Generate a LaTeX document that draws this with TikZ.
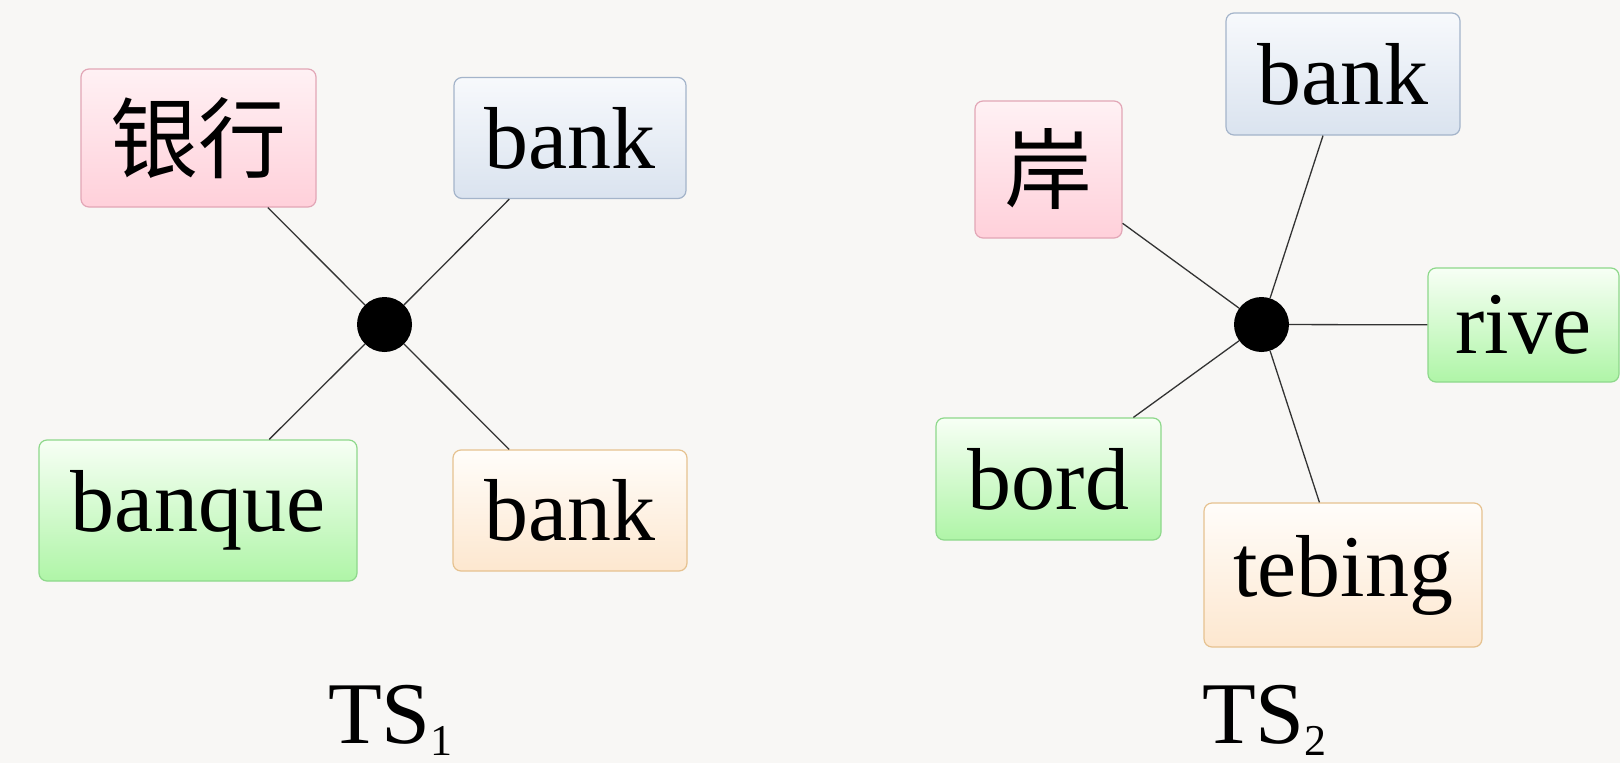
\documentclass[tikz,border=0pt]{standalone}
\usepackage{fontspec}
\setmainfont{Liberation Serif}
\newfontfamily\cjk{Noto Sans CJK SC}
\definecolor{bgcol}{HTML}{F8F7F5}
\definecolor{pinkT}{HTML}{FFF1F4}
\definecolor{pinkB}{HTML}{FFD0DA}
\definecolor{pinkE}{HTML}{E2A6B6}
\definecolor{blueT}{HTML}{F7F9FC}
\definecolor{blueB}{HTML}{DAE3EF}
\definecolor{blueE}{HTML}{A4B4CA}
\definecolor{greenT}{HTML}{F7FFF5}
\definecolor{greenB}{HTML}{AFF5A7}
\definecolor{greenE}{HTML}{8ED88B}
\definecolor{orangeT}{HTML}{FFFDFA}
\definecolor{orangeB}{HTML}{FDE7CF}
\definecolor{orangeE}{HTML}{E6C290}
\definecolor{linecol}{HTML}{333333}
\tikzset{
  wordbox/.style={rounded corners=8pt, line width=1.2pt, inner sep=0pt,
    font=\fontsize{88}{100}\selectfont, text=black},
  pinkbox/.style={wordbox, draw=pinkE, top color=pinkT, bottom color=pinkB},
  bluebox/.style={wordbox, draw=blueE, top color=blueT, bottom color=blueB},
  greenbox/.style={wordbox, draw=greenE, top color=greenT, bottom color=greenB},
  orangebox/.style={wordbox, draw=orangeE, top color=orangeT, bottom color=orangeB},
  hub/.style={circle, fill=black, minimum size=55pt, inner sep=0pt},
  link/.style={draw=linecol, line width=1.3pt},
  caption/.style={anchor=base west, inner sep=0pt, font=\fontsize{88}{100}\selectfont}
}
\newcommand{\subnum}[1]{\raisebox{-12pt}{\fontsize{44}{48}\selectfont #1}}
\begin{document}
\begin{tikzpicture}[x=1pt, y=-1pt]
  \fill[bgcol] (0,0) rectangle (1620,763);
  \useasboundingbox (0,0) rectangle (1620,763);

  % first translation set
  \node[hub] (h1) at (384.5,324.5) {};
  \node[pinkbox, minimum width=235pt, minimum height=138pt] (zh1) at (198.5,138) {\cjk 银行};
  \node[bluebox, minimum width=232pt, minimum height=121pt] (en1) at (570,138) {bank};
  \node[greenbox, minimum width=318pt, minimum height=141pt] (fr1) at (198,510.5) {banque};
  \node[orangebox, minimum width=234pt, minimum height=121pt] (ms1) at (570,510.5) {bank};
  \draw[link] (h1) -- (zh1);
  \draw[link] (h1) -- (en1);
  \draw[link] (h1) -- (fr1);
  \draw[link] (h1) -- (ms1);
  \node[caption] (ts1) at (328,743) {TS\subnum{1}};

  % second translation set
  \node[hub] (h2) at (1261.5,324.5) {};
  \node[pinkbox, minimum width=147pt, minimum height=137pt] (zh2) at (1048.5,169.5) {\cjk 岸};
  \node[bluebox, minimum width=234pt, minimum height=122pt] (en2) at (1343,74) {bank};
  \node[greenbox, minimum width=191pt, minimum height=114pt] (fr2a) at (1523.5,325) {rive};
  \node[greenbox, minimum width=225pt, minimum height=122pt] (fr2b) at (1048.5,479) {bord};
  \node[orangebox, minimum width=278pt, minimum height=144pt] (ms2) at (1343,575) {tebing};
  \draw[link] (h2) -- (zh2);
  \draw[link] (h2) -- (en2);
  \draw[link] (h2) -- (fr2a);
  \draw[link] (h2) -- (fr2b);
  \draw[link] (h2) -- (ms2);
  \node[caption] (ts2) at (1202,743) {TS\subnum{2}};
\end{tikzpicture}
\end{document}
